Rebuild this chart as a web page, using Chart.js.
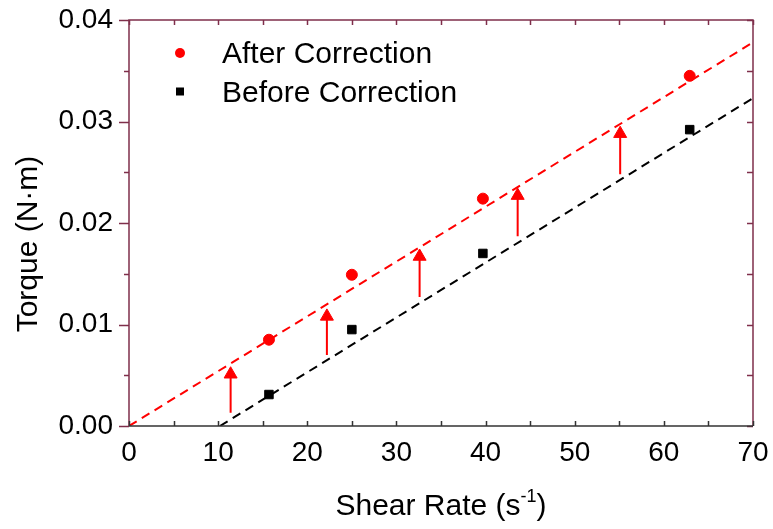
<!DOCTYPE html>
<html>
<head>
<meta charset="utf-8">
<script src="https://cdn.jsdelivr.net/npm/chart.js@4.4.1/dist/chart.umd.min.js"></script>
<style>
    html, body { margin: 0; padding: 0; background: #fff; }
    #wrap { width: 773px; height: 529px; }
</style>
</head>
<body>
<div id="wrap"><canvas id="torqueChart" width="773" height="529"></canvas></div>
<script>
// Measured points (shear rate in s^-1, torque in N·m)
const shearRates = [15.7, 25.0, 39.7, 62.9];
const torqueAfter = [0.0085, 0.0149, 0.0224, 0.0345];
const torqueBefore = [0.0031, 0.0095, 0.0170, 0.0292];

// Dashed fit lines (end points)
const fitAfterX = [0, 70];
const fitAfterY = [0, 0.0378];
const fitBeforeX = [10.2, 70];
const fitBeforeY = [0, 0.0323];

// Correction arrows: x position, start value, head value
const arrowX = [11.4, 22.2, 32.6, 43.6, 55.1];
const arrowFrom = [0.0013, 0.0070, 0.0127, 0.0187, 0.0248];
const arrowTo = [0.0051, 0.0108, 0.0167, 0.0227, 0.0288];

// Axis ranges and tick steps
const xRange = [0, 70];
const yRange = [0, 0.04];
const xMajorStep = 10;
const yMajorStep = 0.01;

const FONT = "'Liberation Sans', Arial, sans-serif";
const RED = "#ff0000";
const FRAME = "#7f2f4b";

/**
 * Builds {x, y} pairs from two arrays
 */
function pairs(xs, ys) {
    return xs.map((x, i) => ({ x: x, y: ys[i] }));
}

// Arrow dataset: start, head, gap, start, head, gap ...
const arrowData = [];
arrowX.forEach((x, i) => {
    arrowData.push({ x: x, y: arrowFrom[i] });
    arrowData.push({ x: x, y: arrowTo[i] });
    arrowData.push({ x: x, y: null });
});

// Drop the label overhang so the layout padding alone sets the plot box
function noOverhang(s) {
    s.paddingTop = 0;
    s.paddingBottom = 0;
    s.paddingLeft = 0;
    s.paddingRight = 0;
}

/**
 * Frame, ticks, axis titles and legend drawn on top of the chart
 */
const framePlugin = {
    id: "frame",
    afterDatasetsDraw(chart) {
        const ctx = chart.ctx;
        const area = chart.chartArea;
        const xs = chart.scales.x;
        const ys = chart.scales.y;
        ctx.save();

        // Left, top and right sides
        ctx.strokeStyle = FRAME;
        ctx.lineWidth = 1.5;
        ctx.beginPath();
        ctx.moveTo(area.left, area.bottom);
        ctx.lineTo(area.left, area.top);
        ctx.lineTo(area.right, area.top);
        ctx.lineTo(area.right, area.bottom);
        ctx.stroke();

        // Y ticks every half step: outward on the left, inward on the right
        ctx.beginPath();
        for (let v = yRange[0]; v <= yRange[1] + 1e-9; v += yMajorStep / 2) {
            const py = Math.round(ys.getPixelForValue(v)) + 0.5;
            const major = Math.abs(v / yMajorStep - Math.round(v / yMajorStep)) < 1e-6;
            ctx.moveTo(area.left - (major ? 10 : 5), py);
            ctx.lineTo(area.left, py);
            ctx.moveTo(area.right, py);
            ctx.lineTo(area.right - 6, py);
        }
        // Top ticks inward
        for (let v = xRange[0]; v <= xRange[1]; v += xMajorStep / 2) {
            const px = Math.round(xs.getPixelForValue(v)) + 0.5;
            ctx.moveTo(px, area.top);
            ctx.lineTo(px, area.top + 5);
        }
        ctx.stroke();

        // Bottom axis in dark grey, ticks inward
        ctx.strokeStyle = "#333";
        ctx.beginPath();
        ctx.moveTo(area.left, area.bottom);
        ctx.lineTo(area.right, area.bottom);
        for (let v = xRange[0]; v <= xRange[1]; v += xMajorStep / 2) {
            const px = Math.round(xs.getPixelForValue(v)) + 0.5;
            ctx.moveTo(px, area.bottom);
            ctx.lineTo(px, area.bottom - 5);
        }
        ctx.stroke();

        // X title with superscript
        ctx.fillStyle = "#000";
        ctx.textBaseline = "alphabetic";
        ctx.textAlign = "left";
        const main = "Shear Rate (s";
        const sup = "-1";
        const close = ")";
        ctx.font = "30px " + FONT;
        const wMain = ctx.measureText(main).width;
        const wClose = ctx.measureText(close).width;
        ctx.font = "18px " + FONT;
        const wSup = ctx.measureText(sup).width;
        let tx = (area.left + area.right) / 2 - (wMain + wSup + wClose) / 2;
        const baseY = 515;
        ctx.font = "30px " + FONT;
        ctx.fillText(main, tx, baseY);
        tx += wMain;
        ctx.font = "18px " + FONT;
        ctx.fillText(sup, tx, baseY - 13);
        tx += wSup;
        ctx.font = "30px " + FONT;
        ctx.fillText(close, tx, baseY);

        // Y title, rotated
        ctx.save();
        ctx.translate(37, 244);
        ctx.rotate(-Math.PI / 2);
        ctx.textAlign = "center";
        ctx.fillText("Torque (N\u00b7m)", 0, 0);
        ctx.restore();

        // Legend inside the plot
        const items = chart.data.datasets.filter(d => d.inLegend);
        ctx.font = "30px " + FONT;
        ctx.textAlign = "left";
        items.forEach((d, i) => {
            const cy = 53 + i * 38.5;
            ctx.fillStyle = d.backgroundColor;
            if (d.pointStyle === "circle") {
                ctx.beginPath();
                ctx.arc(180, cy, 5, 0, Math.PI * 2);
                ctx.fill();
            } else {
                ctx.fillRect(176, cy - 4, 8, 8);
            }
            ctx.fillStyle = "#000";
            ctx.fillText(d.label, 222, cy + 10);
        });

        ctx.restore();
    },
};

const ctx = document.getElementById("torqueChart");
new Chart(ctx, {
    type: "scatter",
    data: {
        datasets: [
            {
                label: "After fit",
                data: pairs(fitAfterX, fitAfterY),
                showLine: true,
                borderColor: RED,
                borderWidth: 2,
                borderDash: [9, 6],
                pointRadius: 0,
            },
            {
                label: "Before fit",
                data: pairs(fitBeforeX, fitBeforeY),
                showLine: true,
                borderColor: "#000",
                borderWidth: 2,
                borderDash: [9, 6],
                pointRadius: 0,
            },
            {
                label: "Correction",
                data: arrowData,
                showLine: true,
                spanGaps: false,
                borderColor: RED,
                borderWidth: 2,
                backgroundColor: RED,
                pointStyle: "triangle",
                pointRadius: c => (c.dataIndex % 3 === 1 ? 7.5 : 0),
                pointBorderWidth: 1,
                pointBorderColor: RED,
            },
            {
                label: "After Correction",
                inLegend: true,
                data: pairs(shearRates, torqueAfter),
                pointStyle: "circle",
                pointRadius: 5.5,
                backgroundColor: RED,
                borderColor: RED,
                borderWidth: 1,
            },
            {
                label: "Before Correction",
                inLegend: true,
                data: pairs(shearRates, torqueBefore),
                pointStyle: "rect",
                pointRadius: 6,
                backgroundColor: "#000",
                borderColor: "#000",
                borderWidth: 1,
            },
        ],
    },
    options: {
        responsive: false,
        animation: false,
        devicePixelRatio: 1,
        layout: { padding: { top: 20, right: 20, left: 0, bottom: 0 } },
        plugins: {
            legend: { display: false },
            tooltip: { enabled: false },
        },
        scales: {
            x: {
                type: "linear",
                min: xRange[0],
                max: xRange[1],
                grid: { display: false, drawTicks: false },
                border: { display: false },
                ticks: {
                    stepSize: xMajorStep,
                    color: "#000",
                    padding: 10,
                    font: { family: FONT, size: 28 },
                },
                afterFit: s => {
                    s.height = 103;
                    noOverhang(s);
                },
            },
            y: {
                min: yRange[0],
                max: yRange[1],
                grid: { display: false, drawTicks: false },
                border: { display: false },
                ticks: {
                    stepSize: yMajorStep,
                    color: "#000",
                    padding: 16,
                    font: { family: FONT, size: 28 },
                    callback: v => v.toFixed(2),
                },
                afterFit: s => {
                    s.width = 129;
                    noOverhang(s);
                },
            },
        },
    },
    plugins: [framePlugin],
});
</script>
</body>
</html>
